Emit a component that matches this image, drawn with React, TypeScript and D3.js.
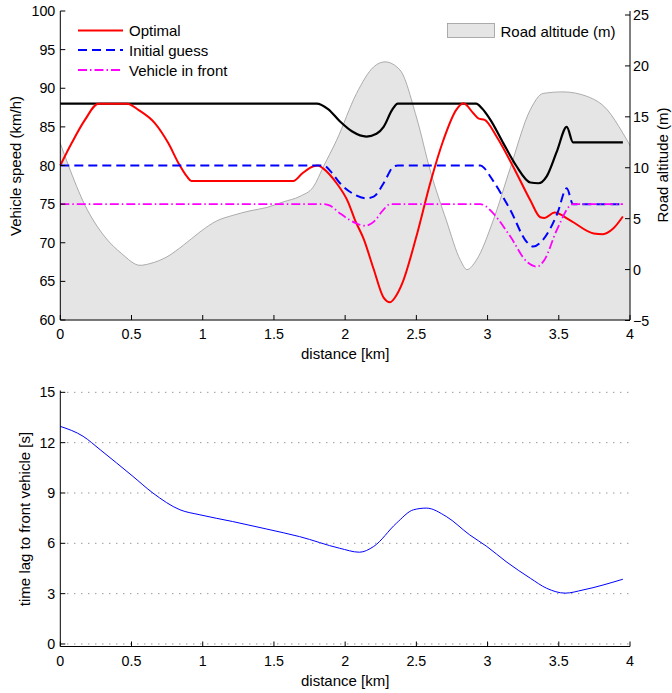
import React from "react";
import * as d3 from "d3";

// ---------- data ----------
const altKm = [0, 0.056, 0.173, 0.314, 0.431, 0.56, 0.63, 0.747, 0.864, 0.981, 1.098, 1.215, 1.332, 1.45, 1.566, 1.683, 1.777, 1.847, 1.94, 2.08, 2.2, 2.28, 2.385, 2.5, 2.6, 2.71, 2.81, 2.855, 2.92, 3.04, 3.16, 3.3, 3.39, 3.53, 3.7, 3.84, 3.95, 4.0];
const altM = [12.4, 10.27, 6.33, 3.2, 1.57, 0.42, 0.59, 1.24, 2.39, 3.7, 4.78, 5.34, 5.77, 6.1, 6.65, 7.2, 8.13, 10.1, 12.7, 17.3, 19.9, 20.4, 19.6, 15.0, 9.6, 4.85, 0.9, 0.0, 0.9, 4.85, 10.0, 15.7, 17.3, 17.45, 17.0, 15.7, 13.4, 12.2];

const maxKm = [0, 1.8, 1.88, 1.964, 2.05, 2.15, 2.22, 2.27, 2.33, 2.37, 2.92, 2.96, 3.02, 3.11, 3.2, 3.3, 3.357, 3.415, 3.486, 3.556, 3.6, 3.95];
const maxV = [88, 88, 87.3, 85.7, 84.4, 83.75, 84.1, 85.0, 87.2, 88, 88, 87.4, 85.9, 82.9, 80.0, 77.8, 77.7, 78.6, 81.8, 85.0, 83.0, 83.0];

const optKm = [0, 0.08, 0.173, 0.267, 0.47, 0.548, 0.665, 0.758, 0.83, 0.89, 0.92, 1.636, 1.7, 1.777, 1.81, 1.847, 1.94, 2.02, 2.07, 2.13, 2.2, 2.27, 2.315, 2.36, 2.4, 2.5, 2.6, 2.69, 2.78, 2.83, 2.9, 2.935, 2.98, 3.065, 3.18, 3.3, 3.37, 3.4, 3.47, 3.58, 3.745, 3.81, 3.88, 3.95];
const optV = [80, 82.9, 85.9, 88, 88, 87.2, 85.46, 82.9, 80.3, 78.55, 78.0, 78.0, 79.0, 79.9, 80.0, 79.6, 77.7, 75.3, 72.9, 70.5, 66.6, 62.9, 62.3, 63.2, 64.7, 70.8, 77.9, 83.3, 87.2, 88.05, 86.76, 86.1, 85.9, 83.7, 79.85, 75.5, 73.3, 73.2, 73.9, 72.9, 71.2, 71.1, 71.8, 73.4];

const guessKm = [0, 1.85, 1.9, 1.964, 2.07, 2.15, 2.2, 2.27, 2.34, 2.37, 2.95, 2.98, 3.02, 3.16, 3.275, 3.32, 3.39, 3.49, 3.556, 3.6, 3.95];
const guessV = [80, 80, 79.2, 77.7, 76.2, 75.75, 75.96, 77.7, 79.85, 80, 80, 79.6, 78.55, 74.24, 70.1, 69.5, 70.4, 73.8, 77.05, 75.0, 75.0];

const frontKm = [0, 1.85, 1.894, 1.964, 2.08, 2.14, 2.2, 2.27, 2.315, 2.95, 2.99, 3.04, 3.16, 3.275, 3.345, 3.4, 3.486, 3.6, 3.95];
const frontV = [75, 75, 74.8, 73.8, 72.5, 72.2, 72.7, 74.3, 75, 75, 74.7, 73.8, 70.8, 67.55, 66.9, 67.8, 71.65, 75, 75];

const lagKm = [0, 0.16, 0.28, 0.51, 0.65, 0.84, 0.98, 1.21, 1.45, 1.68, 1.96, 2.1, 2.2, 2.36, 2.48, 2.57, 2.71, 2.875, 2.995, 3.13, 3.3, 3.415, 3.545, 3.67, 3.95];
const lagS = [12.97, 12.38, 11.58, 9.99, 9.0, 8.0, 7.7, 7.3, 6.85, 6.4, 5.71, 5.47, 5.81, 7.2, 8.0, 8.1, 7.6, 6.5, 5.81, 4.91, 3.92, 3.32, 3.03, 3.22, 3.86];

const xTicks = [0, 0.5, 1, 1.5, 2, 2.5, 3, 3.5, 4];
const speedTicks = [60, 65, 70, 75, 80, 85, 90, 95, 100];
const altTicks = [-5, 0, 5, 10, 15, 20, 25];
const lagTicks = [0, 3, 6, 9, 12, 15];

const legendLabels = ["Optimal", "Initial guess", "Vehicle in front"];
const altLegend = "Road altitude (m)";

// ---------- layout ----------
const FONT = "'Liberation Sans', Arial, Helvetica, sans-serif";
const L = 60.3, R = 630;
const T1 = 11, B1 = 320;
const T2 = 391.5, B2 = 646.5;
const TICK_FS = 14.3;
const LABEL_FS = 15;

const x = d3.scaleLinear().domain([0, 4]).range([L, R]);
const ySpeed = d3.scaleLinear().domain([60, 100]).range([B1, T1]);
const yAlt = d3.scaleLinear().domain([-5, 25]).range([320.5, 15]);
const yLag = d3.scaleLinear().domain([-0.15, 15.05]).range([B2, T2]);

const zip = (a: number[], b: number[]) => a.map((v, i) => [v, b[i]] as [number, number]);

const speedLine = d3.line<[number, number]>().x(d => x(d[0])).y(d => ySpeed(d[1])).curve(d3.curveMonotoneX);
const altArea = d3.area<[number, number]>().x(d => x(d[0])).y0(yAlt(-5)).y1(d => yAlt(d[1])).curve(d3.curveMonotoneX);
const altLine = d3.line<[number, number]>().x(d => x(d[0])).y(d => yAlt(d[1])).curve(d3.curveMonotoneX);
const lagLine = d3.line<[number, number]>().x(d => x(d[0])).y(d => yLag(d[1])).curve(d3.curveMonotoneX);

const fmt = d3.format("");

export default function App() {
  const altData = zip(altKm, altM);
  const series = [
    { data: zip(optKm, optV), color: "#ff0000", dash: undefined, w: 2 },
    { data: zip(guessKm, guessV), color: "#0000ff", dash: "9,5", w: 2 },
    { data: zip(frontKm, frontV), color: "#ff00ff", dash: "9,3,1.5,3", w: 1.8 },
  ];
  const legY = [30.5, 50, 70];

  return (
    <svg width={672} height={693} style={{ position: "absolute", left: 0, top: 0, background: "#fff" }} fontFamily={FONT}>
      {/* ---------- top chart ---------- */}
      <path d={altArea(altData) || ""} fill="#e5e5e5" stroke="none" />
      <path d={altLine(altData) || ""} fill="none" stroke="#999" strokeWidth={0.8} />

      <path d={speedLine(zip(maxKm, maxV)) || ""} fill="none" stroke="#000" strokeWidth={2.2} />
      {series.map((s, i) => (
        <path key={i} d={speedLine(s.data) || ""} fill="none" stroke={s.color} strokeWidth={s.w} strokeDasharray={s.dash} />
      ))}

      {/* axes */}
      <line x1={L} x2={L} y1={T1} y2={B1} stroke="#000" />
      <line x1={R} x2={R} y1={T1} y2={B1} stroke="#000" />
      <line x1={L} x2={R} y1={B1} y2={B1} stroke="#000" />
      {speedTicks.map(t => (
        <g key={"s" + t}>
          <line x1={L} x2={L + 5} y1={ySpeed(t)} y2={ySpeed(t)} stroke="#000" />
          <text x={L - 5} y={ySpeed(t) + 5} fontSize={TICK_FS} textAnchor="end">{fmt(t)}</text>
        </g>
      ))}
      {altTicks.map(t => (
        <g key={"a" + t}>
          <line x1={R - 5} x2={R} y1={yAlt(t)} y2={yAlt(t)} stroke="#000" />
          <text x={R + 3} y={yAlt(t) + 5} fontSize={TICK_FS} textAnchor="start">{fmt(t)}</text>
        </g>
      ))}
      {xTicks.map(t => (
        <g key={"x" + t}>
          <line x1={x(t)} x2={x(t)} y1={B1} y2={B1 - 5} stroke="#000" />
          <text x={x(t)} y={B1 + 19} fontSize={TICK_FS} textAnchor="middle">{fmt(t)}</text>
        </g>
      ))}
      <text x={(L + R) / 2} y={359} fontSize={LABEL_FS} textAnchor="middle">distance [km]</text>
      <text transform={`translate(21,166) rotate(-90)`} fontSize={LABEL_FS} textAnchor="middle">Vehicle speed (km/h)</text>
      <text transform={`translate(668,165) rotate(-90)`} fontSize={LABEL_FS} textAnchor="middle">{altLegend}</text>

      {/* legends */}
      {series.map((s, i) => (
        <g key={"l" + i}>
          <line x1={78} x2={123} y1={legY[i]} y2={legY[i]} stroke={s.color} strokeWidth={s.w} strokeDasharray={s.dash} />
          <text x={129} y={legY[i] + 5.5} fontSize={LABEL_FS}>{legendLabels[i]}</text>
        </g>
      ))}
      <rect x={447.5} y={23.5} width={47} height={14} fill="#e5e5e5" stroke="#999" strokeWidth={0.8} />
      <text x={500.5} y={36.5} fontSize={LABEL_FS}>{altLegend}</text>

      {/* ---------- bottom chart ---------- */}
      {lagTicks.map(t => (
        <line key={"g" + t} x1={L} x2={R} y1={yLag(t)} y2={yLag(t)} stroke="#444" strokeWidth={0.8} strokeDasharray="1,6" />
      ))}
      <path d={lagLine(zip(lagKm, lagS)) || ""} fill="none" stroke="#0000ff" strokeWidth={1} />
      <line x1={L} x2={L} y1={T2 - 1} y2={B2} stroke="#000" />
      <line x1={L} x2={R} y1={B2} y2={B2} stroke="#000" />
      {lagTicks.map(t => (
        <g key={"lt" + t}>
          <line x1={L} x2={L + 5} y1={yLag(t)} y2={yLag(t)} stroke="#000" />
          <text x={L - 5} y={yLag(t) + 5} fontSize={TICK_FS} textAnchor="end">{fmt(t)}</text>
        </g>
      ))}
      {xTicks.map(t => (
        <g key={"bx" + t}>
          <line x1={x(t)} x2={x(t)} y1={B2} y2={B2 - 5} stroke="#000" />
          <text x={x(t)} y={B2 + 19} fontSize={TICK_FS} textAnchor="middle">{fmt(t)}</text>
        </g>
      ))}
      <text x={(L + R) / 2} y={686} fontSize={LABEL_FS} textAnchor="middle">distance [km]</text>
      <text transform={`translate(30,519) rotate(-90)`} fontSize={LABEL_FS} textAnchor="middle">time lag to front vehicle [s]</text>
    </svg>
  );
}
